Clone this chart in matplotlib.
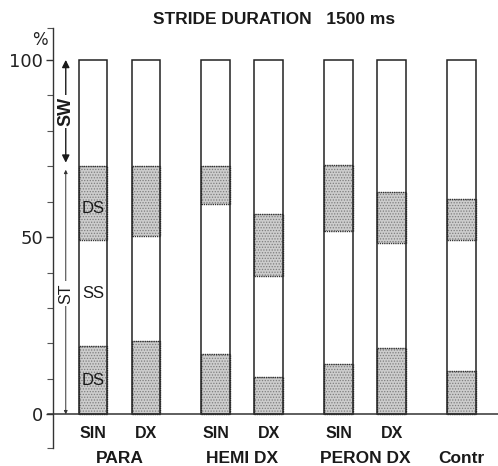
import matplotlib
matplotlib.use("Agg")
import matplotlib.pyplot as plt
from matplotlib.ticker import FixedLocator
import matplotlib.transforms as mtrans

# ---- data (percent of stride) ----
side_labels = ["SIN", "DX", "SIN", "DX", "SIN", "DX", ""]
group_labels = ["PARA", "HEMI DX", "PERON DX", "Contr"]
group_sizes = [2, 2, 2, 1]
ds_initial_end = [19.2, 20.6, 17.1, 10.5, 14.1, 18.6, 12.1]   # top of first double support
ss_end = [49.2, 50.4, 59.3, 39.0, 51.7, 48.2, 49.2]           # top of single support
ds_terminal_end = [70.0, 70.1, 70.0, 56.4, 70.3, 62.6, 60.7]  # top of second double support (end of stance)
total = [100, 100, 100, 100, 100, 100, 100]
title = "STRIDE DURATION   1500 ms"

# ---- layout ----
W, H = 498, 466
fig = plt.figure(figsize=(W / 100, H / 100), dpi=100)
ymin, ymax = -9.5, 109
ax_left_px, ax_top_px, ax_bot_px = 53, 28, 448
ax = fig.add_axes([ax_left_px / W, (H - ax_bot_px) / H, (W - ax_left_px) / W, (ax_bot_px - ax_top_px) / H])
ax.set_ylim(ymin, ymax)

pair_step = 1.0
group_step = 1.31
positions = []
group_centers = []
x = 0.0
for gi, n in enumerate(group_sizes):
    start = x
    for k in range(n):
        positions.append(x)
        if k < n - 1:
            x += pair_step
    group_centers.append((start + x) / 2)
    x += group_step
ax.set_xlim(-0.75, 7.62)
width = 0.54

gray_face = "#cdcdcd"
hatch_col = "#7e7e7e"
plt.rcParams["hatch.linewidth"] = 0.6

for i, p in enumerate(positions):
    segs = [
        (0, ds_initial_end[i], True),
        (ds_initial_end[i], ss_end[i], False),
        (ss_end[i], ds_terminal_end[i], True),
        (ds_terminal_end[i], total[i], False),
    ]
    for lo, hi, shaded in segs:
        if shaded:
            ax.bar(p, hi - lo, bottom=lo, width=width, color=gray_face,
                   hatch="......", edgecolor=hatch_col, linewidth=0, zorder=2)
            ax.bar(p, hi - lo, bottom=lo, width=width, fill=False,
                   edgecolor="#333333", linewidth=1.0, linestyle=(0, (1, 0.6)), zorder=3)
        else:
            ax.bar(p, hi - lo, bottom=lo, width=width, color="white",
                   edgecolor="none", linewidth=0, zorder=2)
    ax.bar(p, total[i], bottom=0, width=width, fill=False,
           edgecolor="#222222", linewidth=1.1, zorder=4)

# spines / ticks
for s in ["top", "right", "bottom"]:
    ax.spines[s].set_visible(False)
ax.spines["left"].set_linewidth(1.0)
ax.spines["left"].set_color("#333333")
ax.set_xticks([])
ax.yaxis.set_major_locator(FixedLocator([0, 50, 100]))
ax.yaxis.set_minor_locator(FixedLocator([ymin, 10, 20, 30, 40, 60, 70, 80, 90, ymax]))
ax.tick_params(axis="y", which="major", length=5, width=1.0, color="#333333",
               labelsize=13, pad=2, labelcolor="#222222")
ax.tick_params(axis="y", which="minor", length=4, width=0.8, color="#555555")
for lab in ax.get_yticklabels():
    lab.set_family("DejaVu Sans")

# baseline
ax.plot([-0.012, 1.0], [0, 0], transform=mtrans.blended_transform_factory(ax.transAxes, ax.transData),
        color="#333333", lw=1.1, clip_on=False, zorder=5)

# labels under bars
for p, lab in zip(positions, side_labels):
    if lab:
        ax.text(p, -5.4, lab, ha="center", va="center", fontsize=11.5, fontweight="bold",
                family="Liberation Sans", color="#1a1a1a", clip_on=False)
for c, lab in zip(group_centers, group_labels):
    ax.text(c, -12.4, lab, ha="center", va="center", fontsize=12.5, fontweight="bold",
            family="Liberation Sans", color="#1a1a1a", clip_on=False)

# segment labels in first bar
p0 = positions[0]
ax.text(p0, (ss_end[0] + ds_terminal_end[0]) / 2 - 1.5, "DS", ha="center", va="center",
        fontsize=12, family="Liberation Sans", color="#1a1a1a", zorder=6)
ax.text(p0, (ds_initial_end[0] + ss_end[0]) / 2, "SS", ha="center", va="center",
        fontsize=12, family="Liberation Sans", color="#1a1a1a", zorder=6)
ax.text(p0, ds_initial_end[0] / 2, "DS", ha="center", va="center",
        fontsize=12, family="Liberation Sans", color="#1a1a1a", zorder=6)

# SW / ST arrows
ax_x = -0.51
st_end = ds_terminal_end[0]
ax.annotate("", xy=(ax_x, total[0]), xytext=(ax_x, st_end + 1),
            arrowprops=dict(arrowstyle="<|-|>", color="#1a1a1a", lw=1.0, mutation_scale=11,
                            shrinkA=0, shrinkB=0))
ax.annotate("", xy=(ax_x, 0), xytext=(ax_x, st_end - 1),
            arrowprops=dict(arrowstyle="<|-|>", color="#333333", lw=0.7, mutation_scale=5,
                            shrinkA=0, shrinkB=0))
ax.text(ax_x, (total[0] + st_end) / 2 + 0.5, "SW", rotation=90, ha="center", va="center",
        fontsize=13, fontweight="bold", family="Liberation Sans", color="#1a1a1a",
        bbox=dict(facecolor="white", edgecolor="none", pad=1.5), zorder=6)
ax.text(ax_x, 34, "ST", rotation=90, ha="center", va="center",
        fontsize=11.5, family="Liberation Sans", color="#1a1a1a",
        bbox=dict(facecolor="white", edgecolor="none", pad=1.5), zorder=6)

# % label and title
fig.text(40 / W, 1 - 40 / H, "%", ha="center", va="center", fontsize=12,
         family="DejaVu Sans", color="#222222")
fig.text(274 / W, 1 - 20 / H, title, ha="center", va="center", fontsize=12.5,
         fontweight="bold", family="Liberation Sans", color="#1a1a1a")

fig.savefig("out.png", dpi=100, facecolor="white")
